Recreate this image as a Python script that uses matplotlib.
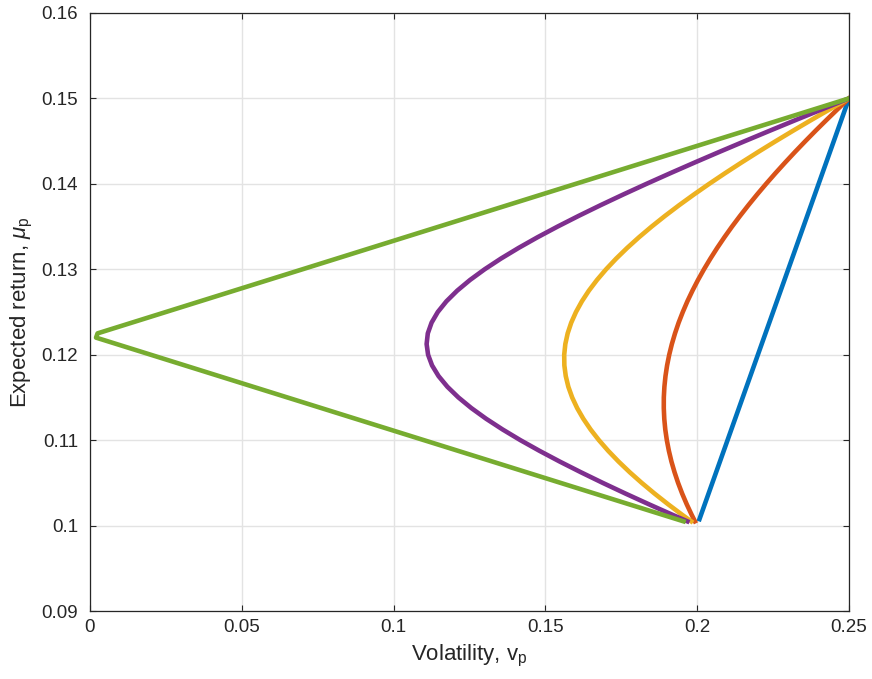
import matplotlib
matplotlib.use("Agg")
import matplotlib.pyplot as plt

plt.rcParams['font.family'] = ['Liberation Sans', 'DejaVu Sans']
plt.rcParams['mathtext.fontset'] = 'custom'
plt.rcParams['mathtext.rm'] = 'Liberation Sans'
plt.rcParams['mathtext.it'] = 'Liberation Sans:italic'

# Expected returns shared by the curved frontiers
ret = [0.1005, 0.10125, 0.1025, 0.10375, 0.1050, 0.10625, 0.1075, 0.10875, 0.1100,
       0.11125, 0.1125, 0.11375, 0.1150, 0.11625, 0.1175, 0.11875, 0.1200, 0.12125,
       0.1225, 0.12375, 0.1250, 0.12625, 0.1275, 0.12875, 0.1300, 0.13125, 0.1325,
       0.13375, 0.1350, 0.13625, 0.1375, 0.13875, 0.1400, 0.14125, 0.1425, 0.14375,
       0.1450, 0.14625, 0.1475, 0.14875, 0.1500]

vol_red = [0.19926, 0.19820, 0.19655, 0.19505, 0.19371, 0.19254, 0.19152, 0.19068,
           0.19000, 0.18949, 0.18916, 0.18900, 0.18901, 0.18920, 0.18956, 0.19009,
           0.19079, 0.19166, 0.19270, 0.19389, 0.19526, 0.19677, 0.19845, 0.20027,
           0.20224, 0.20435, 0.20659, 0.20897, 0.21148, 0.21412, 0.21687, 0.21973,
           0.22271, 0.22579, 0.22898, 0.23226, 0.23564, 0.23910, 0.24266, 0.24629,
           0.25000]
vol_yellow = [0.19802, 0.19510, 0.19041, 0.18595, 0.18173, 0.17777, 0.17409, 0.17070,
              0.16763, 0.16489, 0.16250, 0.16047, 0.15882, 0.15756, 0.15671, 0.15625,
              0.15620, 0.15657, 0.15734, 0.15851, 0.16008, 0.16202, 0.16433, 0.16700,
              0.17000, 0.17332, 0.17694, 0.18084, 0.18500, 0.18941, 0.19405, 0.19891,
              0.20396, 0.20920, 0.21461, 0.22017, 0.22589, 0.23174, 0.23771, 0.24380,
              0.25000]
vol_purple = [0.19676, 0.19195, 0.18407, 0.17637, 0.16889, 0.16166, 0.15470, 0.14806,
              0.14177, 0.13591, 0.13050, 0.12563, 0.12135, 0.11772, 0.11481, 0.11267,
              0.11136, 0.11088, 0.11127, 0.11251, 0.11456, 0.11740, 0.12096, 0.12518,
              0.13000, 0.13535, 0.14118, 0.14742, 0.15403, 0.16096, 0.16817, 0.17563,
              0.18330, 0.19117, 0.19920, 0.20738, 0.21570, 0.22413, 0.23266, 0.24129,
              0.25000]

vol_blue = [0.2005, 0.2500]
ret_blue = [0.1005, 0.1500]
vol_green = [0.1955, 0.0020, 0.0025, 0.2500]
ret_green = [0.1005, 0.1220, 0.1225, 0.1500]

x_ticks = [0, 0.05, 0.1, 0.15, 0.2, 0.25]
x_labels = ['0', '0.05', '0.1', '0.15', '0.2', '0.25']
y_ticks = [0.09, 0.10, 0.11, 0.12, 0.13, 0.14, 0.15, 0.16]
y_labels = ['0.09', '0.1', '0.11', '0.12', '0.13', '0.14', '0.15', '0.16']

fig = plt.figure(figsize=(8.72, 6.79), dpi=100)
ax = fig.add_axes([0.1032, 0.1001, 0.8704, 0.8808])

lw = 3.3
ax.plot(vol_blue, ret_blue, color='#0072BD', lw=lw, solid_capstyle='butt')
ax.plot(vol_red, ret, color='#D95319', lw=lw)
ax.plot(vol_yellow, ret, color='#EDB120', lw=lw)
ax.plot(vol_purple, ret, color='#7E2F8E', lw=lw)
ax.plot(vol_green, ret_green, color='#77AC30', lw=lw)

ax.set_xlim(0, 0.25)
ax.set_ylim(0.09, 0.16)
ax.set_xticks(x_ticks)
ax.set_xticklabels(x_labels)
ax.set_yticks(y_ticks)
ax.set_yticklabels(y_labels)
ax.grid(True, color='#e3e3e3', lw=1.0)
ax.set_axisbelow(True)
ax.tick_params(direction='in', length=4, width=0.8, labelsize=13.5, colors='#262626',
               top=True, right=True)
ax.tick_params(axis='y', pad=8.5)
ax.tick_params(axis='x', pad=6)
for s in ax.spines.values():
    s.set_color('#262626')
    s.set_linewidth(0.9)

ax.set_xlabel(r'Volatility, v$_\mathrm{p}$', fontsize=16, color='#262626', labelpad=5)
ax.set_ylabel(r'Expected return, $\mu_\mathrm{p}$', fontsize=16, color='#262626', labelpad=5)

fig.savefig('out.png', dpi=100)
